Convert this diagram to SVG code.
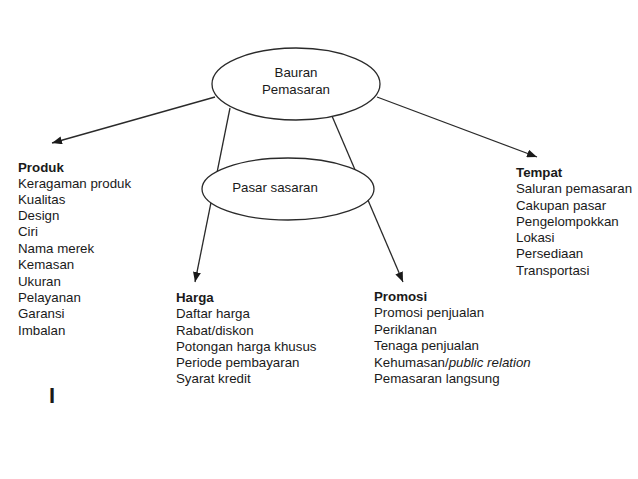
<svg xmlns="http://www.w3.org/2000/svg" width="638" height="479" viewBox="0 0 638 479">
<style>
text{font-family:"Liberation Sans",Arial,sans-serif;font-size:13.3px;fill:#1a1a1a}
.h{font-weight:bold}
.c{text-anchor:middle}
.node{fill:#fff;stroke:#2a2a2a;stroke-width:1.3}
.edge{stroke:#2a2a2a;stroke-width:1.3;fill:none;marker-end:url(#ah)}
</style>
<defs>
<marker id="ah" viewBox="0 0 10 8" refX="10" refY="4" markerUnits="userSpaceOnUse" markerWidth="10" markerHeight="8" orient="auto">
<path d="M0,0 L10,4 L0,8 z" fill="#1a1a1a"/>
</marker>
</defs>
<rect width="638" height="479" fill="#fff"/>
<g id="connectors">
<line class="edge" x1="215" y1="97" x2="52" y2="143"/>
<line class="edge" x1="377" y1="97" x2="537" y2="157"/>
<line class="edge" x1="230" y1="108" x2="195" y2="282"/>
<line class="edge" x1="332" y1="116" x2="403" y2="282"/>
</g>
<g id="bauran">
<ellipse class="node" cx="296" cy="84" rx="84" ry="36"/>
<text class="c" x="296" y="77">Bauran</text>
<text class="c" x="296" y="94">Pemasaran</text>
</g>
<g id="pasar">
<ellipse class="node" cx="288" cy="189" rx="86" ry="31"/>
<text class="c" x="275" y="192">Pasar sasaran</text>
</g>
<g id="produk">
<text class="h" x="18" y="172">Produk</text>
<text x="18" y="188">Keragaman produk</text>
<text x="18" y="204">Kualitas</text>
<text x="18" y="220">Design</text>
<text x="18" y="236">Ciri</text>
<text x="18" y="253">Nama merek</text>
<text x="18" y="269">Kemasan</text>
<text x="18" y="286">Ukuran</text>
<text x="18" y="302">Pelayanan</text>
<text x="18" y="318">Garansi</text>
<text x="18" y="335">Imbalan</text>
</g>
<g id="harga">
<text class="h" x="176" y="302">Harga</text>
<text x="176" y="318">Daftar harga</text>
<text x="176" y="335">Rabat/diskon</text>
<text x="176" y="351">Potongan harga khusus</text>
<text x="176" y="367">Periode pembayaran</text>
<text x="176" y="383">Syarat kredit</text>
</g>
<g id="promosi">
<text class="h" x="374" y="301">Promosi</text>
<text x="374" y="317">Promosi penjualan</text>
<text x="374" y="334">Periklanan</text>
<text x="374" y="350">Tenaga penjualan</text>
<text x="374" y="367">Kehumasan/<tspan font-style="italic">public relation</tspan></text>
<text x="374" y="383">Pemasaran langsung</text>
</g>
<g id="tempat">
<text class="h" x="516" y="177">Tempat</text>
<text x="516" y="193">Saluran pemasaran</text>
<text x="516" y="210">Cakupan pasar</text>
<text x="516" y="226">Pengelompokkan</text>
<text x="516" y="242">Lokasi</text>
<text x="516" y="258">Persediaan</text>
<text x="516" y="275">Transportasi</text>
</g>
<text class="h" x="49" y="403" style="font-size:22px">I</text>
</svg>
